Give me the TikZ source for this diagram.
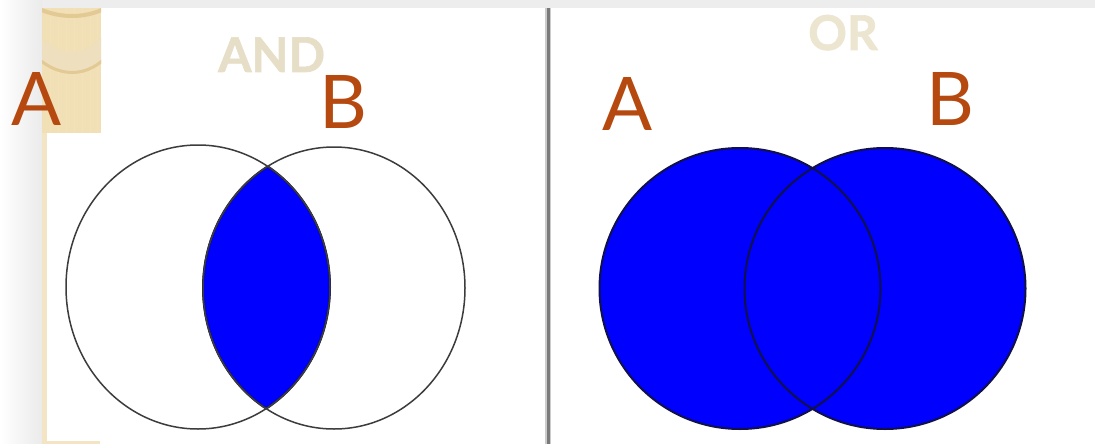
\documentclass[tikz,border=0pt]{standalone}
\usepackage{fontspec}
\newfontfamily\lab{Lato}
\newfontfamily\labbold[FakeBold=1.2]{Lato Bold}
\definecolor{labrust}{HTML}{B5490F}
\definecolor{paleand}{HTML}{E6DEC6}
\definecolor{paleor}{HTML}{ECE5D0}
\definecolor{beige}{HTML}{F1DFB5}
\definecolor{beigedark}{HTML}{E3C993}
\definecolor{beigelight}{HTML}{F3E5C4}
\definecolor{vennblue}{HTML}{0000FF}
\definecolor{venndark}{HTML}{10104A}
\definecolor{ringgrey}{HTML}{3C3C3C}
\definecolor{divider}{HTML}{7A7A7A}
\tikzset{
  setlabel/.style={font=\lab\fontsize{74}{74}\selectfont, text=labrust, inner sep=0pt, anchor=base west},
  optitle/.style={font=\labbold\fontsize{48}{48}\selectfont, inner sep=0pt, anchor=base west},
  andring/.style={draw=ringgrey, line width=1.5pt},
  orring/.style={draw=venndark, line width=2pt},
}
\begin{document}
\begin{tikzpicture}[x=1pt,y=-1pt]
\useasboundingbox (0,0) rectangle (1095,444);
% backgrounds
\fill[white] (0,0) rectangle (1095,444);
\shade[left color=white, right color=black!8] (0,0) rectangle (42,444);
\fill[black!7] (42,0) rectangle (1095,8);
% beige decoration
\fill[beige] (42,8) rectangle (101,133);
\begin{scope}
  \clip (42,8) rectangle (101,133);
  \foreach \xx in {50,58,66,74,82,90,97} \draw[beige!60!beigelight, line width=1pt] (\xx,8) -- (\xx,133);
  \draw[beigedark!60, line width=20pt] (30,40) .. controls (55,70) and (90,70) .. (112,40);
  \draw[beigedark, line width=3pt] (30,50) .. controls (55,80) and (90,80) .. (112,50);
  \draw[beigedark, line width=4pt] (30,4) .. controls (55,20) and (90,20) .. (112,4);
\end{scope}
\fill[beigelight] (42,133) rectangle (47,444);
\fill[beigelight] (42,441) rectangle (100,444);
% divider
\fill[black!20] (545,8) rectangle (551,444);
\fill[divider] (546.5,8) rectangle (549.5,444);
% AND venn
\begin{scope}
  \clip (198,287) ellipse [x radius=132pt, y radius=142pt];
  \fill[vennblue] (334,288) ellipse [x radius=131pt, y radius=141pt];
  \draw[venndark, line width=2pt] (334,288) ellipse [x radius=131pt, y radius=141pt];
\end{scope}
\begin{scope}
  \clip (334,288) ellipse [x radius=131pt, y radius=141pt];
  \draw[venndark, line width=2pt] (198,287) ellipse [x radius=132pt, y radius=142pt];
\end{scope}
\draw[andring] (198,287) ellipse [x radius=132pt, y radius=142pt];
\draw[andring] (334,288) ellipse [x radius=131pt, y radius=141pt];
% OR venn
\fill[vennblue] (740,288.5) circle [radius=140.5pt];
\fill[vennblue] (885,288.5) circle [radius=140.5pt];
\draw[orring] (740,288.5) circle [radius=140.5pt];
\draw[orring] (885,288.5) circle [radius=140.5pt];
% titles
\node[optitle, text=paleand] (andtitle) at (218,72) {AND};
\node[optitle, text=paleor] (ortitle) at (808,50) {OR};
% set labels
\node[setlabel] (andA) at (11,125) {A};
\node[setlabel] (andB) at (319,128) {B};
\node[setlabel] (orA) at (602,130) {A};
\node[setlabel] (orB) at (926,125) {B};
\end{tikzpicture}
\end{document}
